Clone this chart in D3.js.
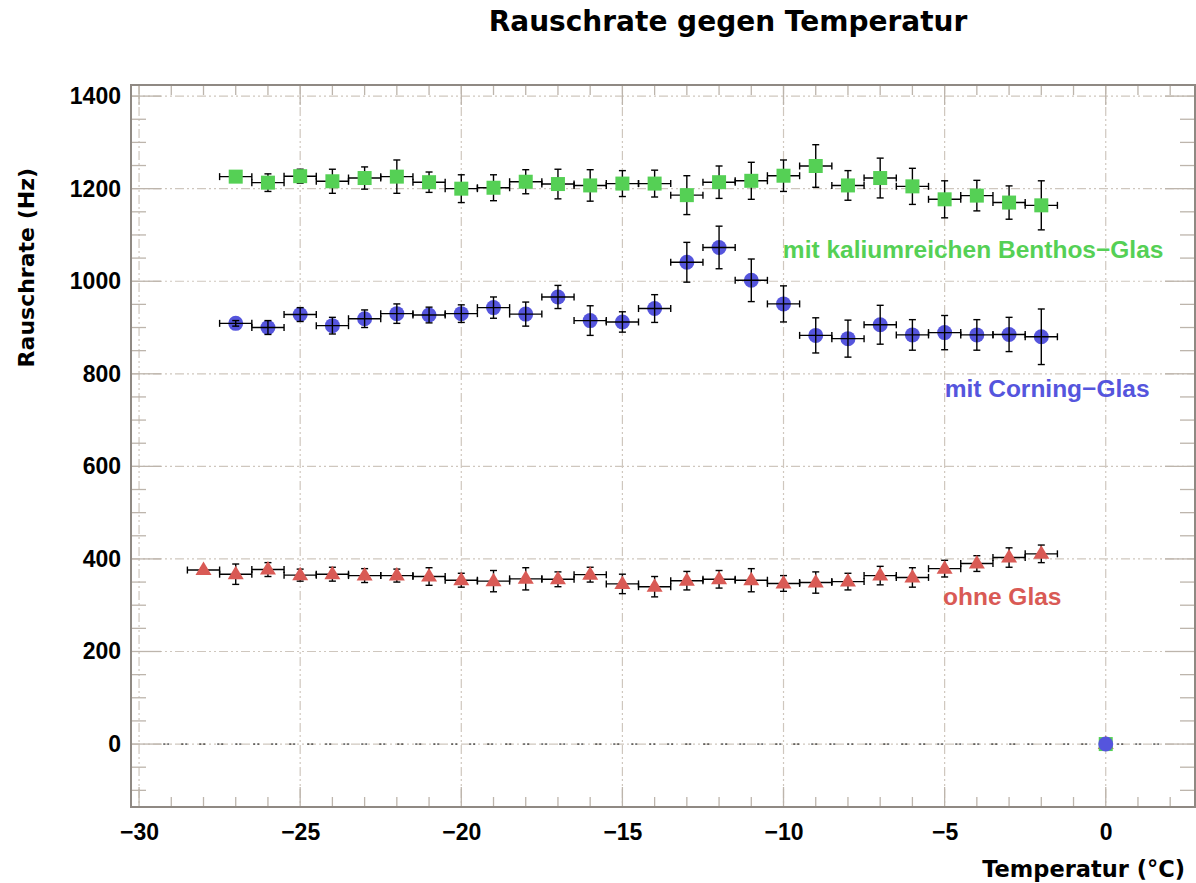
<!DOCTYPE html>
<html>
<head>
<meta charset="utf-8">
<script src="https://cdn.jsdelivr.net/npm/d3@7"></script>
<style>
  html, body { margin: 0; padding: 0; background: #ffffff; }
  svg { display: block; }
</style>
</head>
<body>
<svg id="chart" width="1196" height="883"></svg>
<script>
// Noise rate vs. temperature for three photomultiplier configurations.
const tempsFull = [-28, -27, -26, -25, -24, -23, -22, -21, -20, -19, -18, -17, -16, -15,
                   -14, -13, -12, -11, -10, -9, -8, -7, -6, -5, -4, -3, -2];
const tempsShort = tempsFull.slice(1);

// ohne Glas (red triangles), -28 .. -2 °C
const rateOhne = [376, 367, 377, 365, 367, 364, 364, 362, 354, 352, 357, 356, 366, 346,
                  340, 353, 356, 354, 347, 349, 351, 364, 360, 379, 390, 403, 411];
const errOhne  = [4, 22, 15, 13, 15, 15, 14, 19, 15, 23, 24, 16, 16, 21,
                  22, 20, 19, 25, 17, 23, 18, 20, 21, 18, 17, 21, 19];

// mit Corning-Glas (blue circles), -27 .. -2 °C
const rateCorning = [909, 900, 928, 904, 919, 930, 927, 930, 943, 929, 966, 915, 912,
                     941, 1041, 1073, 1002, 951, 883, 876, 906, 884, 889, 884, 885, 880];
const errCorning  = [6, 15, 15, 18, 19, 21, 17, 19, 23, 26, 25, 32, 22,
                     30, 43, 46, 46, 39, 38, 40, 42, 33, 37, 33, 37, 60];

// mit kaliumreichen Benthos-Glas (green squares), -27 .. -2 °C
const rateBenthos = [1226, 1213, 1227, 1216, 1223, 1226, 1214, 1200, 1202, 1215, 1210, 1207, 1211,
                     1211, 1186, 1214, 1217, 1228, 1249, 1207, 1223, 1205, 1177, 1185, 1170, 1164];
const errBenthos  = [4, 19, 15, 26, 24, 36, 22, 30, 28, 26, 32, 34, 28,
                     29, 42, 35, 40, 34, 46, 32, 43, 39, 40, 33, 36, 53];

// Reference point at 0 °C shared by all three series
const originTemp = 0;
const originRate = 0;

const binHalfWidth = 0.5;
const baselineSpan = [-29.25, 1.75];

const xTicks = [-30, -25, -20, -15, -10, -5, 0];
const yTicks = [0, 200, 400, 600, 800, 1000, 1200, 1400];

const labels = [
  { text: "mit kaliumreichen Benthos\u2212Glas", t: -10.02, v: 1050, color: "#55d055" },
  { text: "mit Corning\u2212Glas",              t: -5.0,   v: 750,  color: "#5555dd" },
  { text: "ohne Glas",                           t: -5.05,  v: 300,  color: "#d95a55" }
];

// ---------------------------------------------------------------------------
const svg = d3.select("#chart");
const W = 1196, H = 883;
const frame = { left: 131, right: 1195, top: 85, bottom: 807 };

const x = d3.scaleLinear().domain([-30.25, 2.77]).range([frame.left, frame.right]);
const y = d3.scaleLinear().domain([-136, 1424]).range([frame.bottom, frame.top]);

const gridColor = "#cfc7be";
const tickColor = "#bdb5ac";
const frameColor = "#8f8983";
const gridDash = "9,3,2,3,2,3";

svg.append("rect").attr("width", W).attr("height", H).attr("fill", "#ffffff");

// Grid
const grid = svg.append("g");
grid.selectAll("line.vg").data(xTicks).join("line")
  .attr("x1", d => x(d)).attr("x2", d => x(d))
  .attr("y1", frame.top).attr("y2", frame.bottom)
  .attr("stroke", gridColor).attr("stroke-width", 1.2).attr("stroke-dasharray", gridDash);
grid.selectAll("line.hg").data(yTicks).join("line")
  .attr("x1", frame.left).attr("x2", frame.right)
  .attr("y1", d => y(d)).attr("y2", d => y(d))
  .attr("stroke", gridColor).attr("stroke-width", 1.2).attr("stroke-dasharray", gridDash);

// Tick marks on all four sides (inside the frame)
const ticks = svg.append("g").attr("stroke", tickColor).attr("stroke-width", 1.3);
const xMinor = d3.range(-30, 3, 1);
const yMinor = d3.range(-100, 1425, 50);
xMinor.forEach(t => {
  const major = t % 5 === 0;
  const len = major ? 20 : 10;
  ticks.append("line").attr("x1", x(t)).attr("x2", x(t)).attr("y1", frame.bottom).attr("y2", frame.bottom - len);
  ticks.append("line").attr("x1", x(t)).attr("x2", x(t)).attr("y1", frame.top).attr("y2", frame.top + len);
});
yMinor.forEach(v => {
  const major = v % 200 === 0;
  const len = major ? 30 : 15;
  ticks.append("line").attr("x1", frame.left).attr("x2", frame.left + len).attr("y1", y(v)).attr("y2", y(v));
  ticks.append("line").attr("x1", frame.right).attr("x2", frame.right - len).attr("y1", y(v)).attr("y2", y(v));
});

// Dotted baseline at zero rate
svg.append("line")
  .attr("x1", x(baselineSpan[0])).attr("x2", x(baselineSpan[1]))
  .attr("y1", y(0)).attr("y2", y(0))
  .attr("stroke", "#000").attr("stroke-width", 1).attr("stroke-dasharray", "2,2,2,12");

// Frame
svg.append("rect")
  .attr("x", frame.left).attr("y", frame.top)
  .attr("width", frame.right - frame.left).attr("height", frame.bottom - frame.top)
  .attr("fill", "none").attr("stroke", frameColor).attr("stroke-width", 2);

// Axis labels through d3 axes (ticks hidden, drawn above)
const tickFont = "'Liberation Sans', Arial, sans-serif";
const xAxis = svg.append("g").attr("transform", `translate(0,${frame.bottom})`)
  .call(d3.axisBottom(x).tickValues(xTicks).tickFormat(d3.format("d")).tickSize(0).tickPadding(17));
xAxis.select(".domain").remove();
xAxis.selectAll("text").attr("font-family", tickFont).attr("font-weight", "bold")
  .attr("font-size", 23).attr("fill", "#000");

const yAxis = svg.append("g").attr("transform", `translate(${frame.left},0)`)
  .call(d3.axisLeft(y).tickValues(yTicks).tickFormat(d3.format("d")).tickSize(0).tickPadding(10));
yAxis.select(".domain").remove();
yAxis.selectAll("text").attr("font-family", tickFont).attr("font-weight", "bold")
  .attr("font-size", 23).attr("fill", "#000");

// Titles
const titleFont = "'DejaVu Sans', 'Liberation Sans', sans-serif";
svg.append("text").attr("x", 728).attr("y", 31)
  .attr("text-anchor", "middle").attr("font-family", titleFont)
  .attr("font-weight", "bold").attr("font-size", 28).attr("fill", "#000")
  .text("Rauschrate gegen Temperatur");
svg.append("text").attr("x", 1185).attr("y", 877)
  .attr("text-anchor", "end").attr("font-family", titleFont)
  .attr("font-weight", "bold").attr("font-size", 22.5).attr("fill", "#000")
  .text("Temperatur (\u00B0C)");
svg.append("text").attr("transform", "translate(34,168) rotate(-90)")
  .attr("text-anchor", "end").attr("font-family", titleFont)
  .attr("font-weight", "bold").attr("font-size", 22).attr("fill", "#000")
  .text("Rauschrate (Hz)");

// ---------------------------------------------------------------------------
// Series
function makePoints(temps, rates, errs) {
  const pts = temps.map((t, i) => ({ t, v: rates[i], e: errs[i], bars: true }));
  pts.push({ t: originTemp, v: originRate, e: 0, bars: false });
  return pts;
}

const seriesRed   = makePoints(tempsFull,  rateOhne,    errOhne);
const seriesGreen = makePoints(tempsShort, rateBenthos, errBenthos);
const seriesBlue  = makePoints(tempsShort, rateCorning, errCorning);

const capH = 3.5;
function drawErrors(g, pts) {
  const eg = g.append("g").attr("stroke", "#000").attr("stroke-width", 1.4).attr("fill", "none");
  pts.filter(p => p.bars).forEach(p => {
    const cx = x(p.t), cy = y(p.v);
    const x0 = x(p.t - binHalfWidth), x1 = x(p.t + binHalfWidth);
    const y0 = y(p.v - p.e), y1 = y(p.v + p.e);
    eg.append("line").attr("x1", x0).attr("x2", x1).attr("y1", cy).attr("y2", cy);
    eg.append("line").attr("x1", x0).attr("x2", x0).attr("y1", cy - capH).attr("y2", cy + capH);
    eg.append("line").attr("x1", x1).attr("x2", x1).attr("y1", cy - capH).attr("y2", cy + capH);
    if (Math.abs(y1 - y0) > 2) {
      eg.append("line").attr("x1", cx).attr("x2", cx).attr("y1", y0).attr("y2", y1);
      eg.append("line").attr("x1", cx - capH).attr("x2", cx + capH).attr("y1", y0).attr("y2", y0);
      eg.append("line").attr("x1", cx - capH).attr("x2", cx + capH).attr("y1", y1).attr("y2", y1);
    }
  });
}

const plot = svg.append("g");

// red triangles
const gRed = plot.append("g");
drawErrors(gRed, seriesRed);
gRed.selectAll("path").data(seriesRed).join("path")
  .attr("transform", d => `translate(${x(d.t)},${y(d.v)})`)
  .attr("d", "M0,-8.5 L8,5 L-8,5 Z")
  .attr("fill", "#d95a55");

// green squares
const gGreen = plot.append("g");
drawErrors(gGreen, seriesGreen);
gGreen.selectAll("rect").data(seriesGreen).join("rect")
  .attr("x", d => x(d.t) - 7).attr("y", d => y(d.v) - 7)
  .attr("width", 14).attr("height", 14)
  .attr("fill", "#55d055");

// blue circles, error bars drawn on top
const gBlue = plot.append("g");
gBlue.selectAll("circle").data(seriesBlue).join("circle")
  .attr("cx", d => x(d.t)).attr("cy", d => y(d.v)).attr("r", 7.5)
  .attr("fill", "#5555dd");
drawErrors(gBlue, seriesBlue);

// Series labels
svg.append("g").selectAll("text").data(labels).join("text")
  .attr("x", d => x(d.t)).attr("y", d => y(d.v))
  .attr("font-family", tickFont).attr("font-weight", "bold").attr("font-size", 24.5)
  .attr("fill", d => d.color)
  .text(d => d.text);
</script>
</body>
</html>
